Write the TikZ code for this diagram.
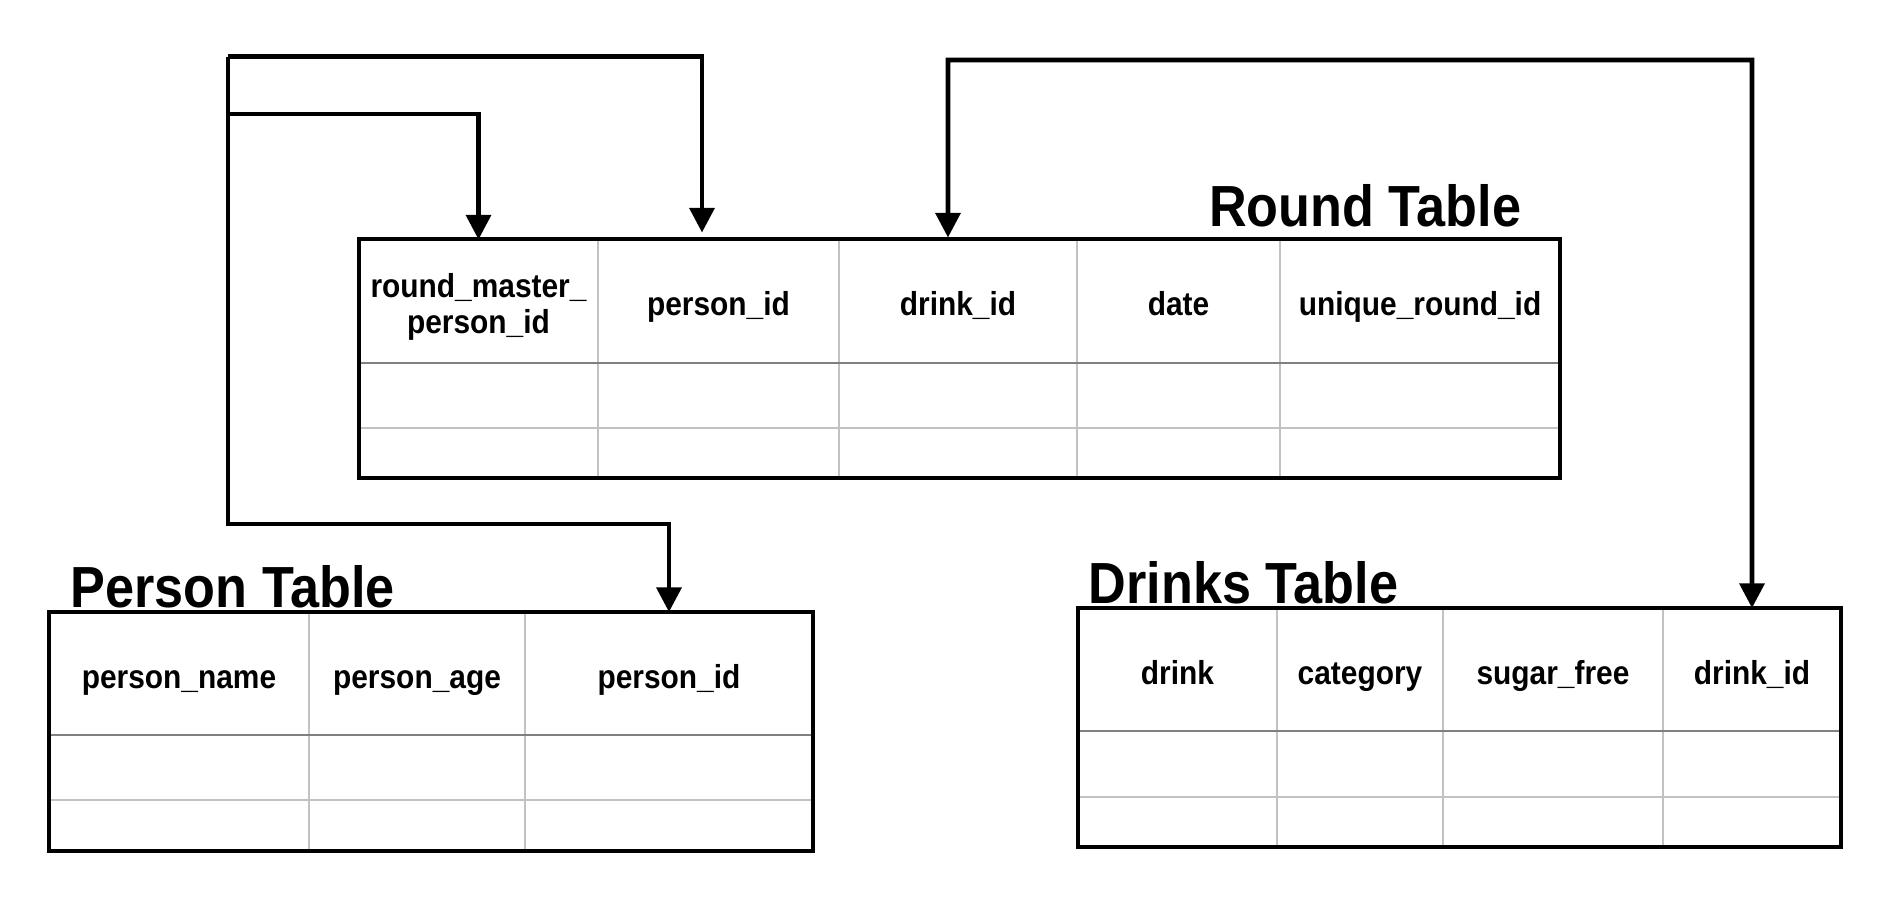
\documentclass[tikz,border=0pt]{standalone}
\usepackage{fontspec}
\setmainfont{Liberation Sans}[FakeStretch=0.9]
\usepackage{tikz}
\usetikzlibrary{positioning, calc, arrows.meta}

\definecolor{hdline}{gray}{0.5}
\definecolor{rowline}{gray}{0.76}

\tikzset{
    tabframe/.style={line width=1pt},
    headrule/.style={draw=hdline, line width=0.5pt},
    rowrule/.style={draw=rowline, line width=0.5pt},
    cell/.style={inner sep=0pt, outer sep=0pt, minimum height=1.23cm, align=center,
        text height=1.0em, text depth=0.16em,
        font=\fontsize{9.45pt}{10.3pt}\selectfont\bfseries},
    twocell/.style={inner sep=0pt, outer sep=0pt, minimum height=1.23cm, align=center,
        font=\fontsize{9.45pt}{10.3pt}\selectfont\bfseries},
    tabtitle/.style={inner sep=0pt, font=\fontsize{16.5pt}{18pt}\selectfont\bfseries},
    link/.style={line width=1.3pt, -{Triangle[length=7pt,width=7pt]}},
    biglink/.style={line width=1.3pt, {Triangle[length=7pt,width=7pt]}-{Triangle[length=7pt,width=7pt]}}
}

\begin{document}
\begin{tikzpicture}
        \useasboundingbox (0,0) rectangle (18.84,9.02);

        % Round Table
        \node[tabtitle, anchor=base east] (rtitle) at (15.22,6.76) {Round Table};
        \foreach \x in {5.98,8.39,10.77,12.80} {
            \draw[rowrule] (\x,4.24) -- (\x,6.63);
        }
        \draw[headrule] (3.59,5.39) -- (15.60,5.39);
        \draw[rowrule] (3.59,4.74) -- (15.60,4.74);
        \draw[tabframe] (3.59,4.24) rectangle (15.60,6.63);
        \node[twocell, minimum width=2.39cm] (rmaster) at (4.785,5.95) {round\_master\_\\person\_id};
        \node[cell, minimum width=2.41cm] (rpid) at (7.185,6.01) {person\_id};
        \node[cell, minimum width=2.38cm] (rdid) at (9.58,6.01) {drink\_id};
        \node[cell, minimum width=2.03cm] (rdate) at (11.785,6.01) {date};
        \node[cell, minimum width=2.80cm] (ruid) at (14.20,6.01) {unique\_round\_id};

        % Person Table
        \node[tabtitle, anchor=base west] (ptitle) at (0.70,2.95) {Person Table};
        \foreach \x in {3.09,5.25} {
            \draw[rowrule] (\x,0.51) -- (\x,2.90);
        }
        \draw[headrule] (0.49,1.67) -- (8.13,1.67);
        \draw[rowrule] (0.49,1.02) -- (8.13,1.02);
        \draw[tabframe] (0.49,0.51) rectangle (8.13,2.90);
        \node[cell, minimum width=2.60cm] (pname) at (1.79,2.285) {person\_name};
        \node[cell, minimum width=2.16cm] (page) at (4.17,2.285) {person\_age};
        \node[cell, minimum width=2.88cm] (ppid) at (6.69,2.285) {person\_id};

        % Drinks Table
        \node[tabtitle, anchor=base west] (dtitle) at (10.88,2.99) {Drinks Table};
        \foreach \x in {12.77,14.43,16.63} {
            \draw[rowrule] (\x,0.55) -- (\x,2.94);
        }
        \draw[headrule] (10.78,1.71) -- (18.41,1.71);
        \draw[rowrule] (10.78,1.05) -- (18.41,1.05);
        \draw[tabframe] (10.78,0.55) rectangle (18.41,2.94);
        \node[cell, minimum width=1.99cm] (ddrink) at (11.775,2.325) {drink};
        \node[cell, minimum width=1.66cm] (dcat) at (13.60,2.325) {category};
        \node[cell, minimum width=2.20cm] (dsugar) at (15.53,2.325) {sugar\_free};
        \node[cell, minimum width=1.78cm] (ddid) at (17.52,2.325) {drink\_id};

        % 矢印
        \coordinate (ltop) at (2.28,8.455);
        \coordinate (lmid) at (2.28,7.88);
        \coordinate (lbend) at (2.28,3.78);
        \coordinate (rpidtip) at ($(rpid.north)+(-0.165,0.07)$);
        \coordinate (rdidtip) at ($(rdid.north)+(-0.10,0.02)$);
        \coordinate (rtop) at (9.48,8.42);

        \draw[link] (ltop) -- (lbend) -| (ppid.north);
        \draw[link] (ltop) -| (rpidtip);
        \draw[link] (lmid) -| ($(rmaster.north)+(0,0.06)$);
        \draw[biglink] (rdidtip) -- (rtop) -| (ddid.north);
\end{tikzpicture}
\end{document}
